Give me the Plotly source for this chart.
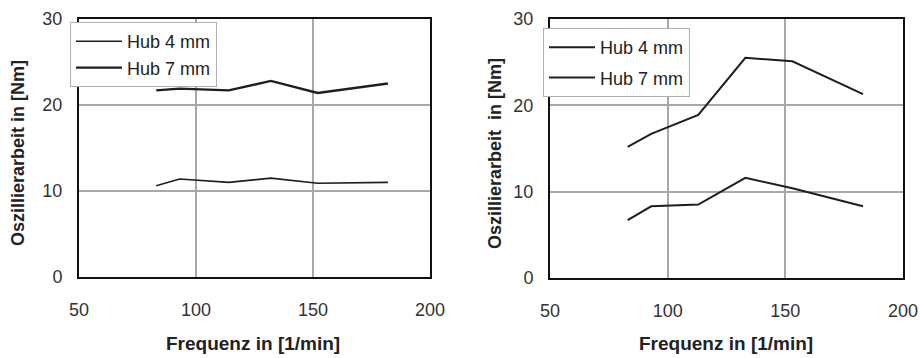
import plotly.graph_objects as go

# Data
freq_left = [83, 93, 114, 132, 152, 182]
left_hub4 = [10.6, 11.4, 11.0, 11.5, 10.9, 11.0]
left_hub7 = [21.7, 21.9, 21.7, 22.8, 21.4, 22.5]

freq_right = [83, 93, 113, 133, 153, 183]
right_hub4 = [6.7, 8.3, 8.5, 11.6, 10.4, 8.3]
right_hub7 = [15.2, 16.7, 18.9, 25.5, 25.1, 21.3]

x_ticks = [50, 100, 150, 200]
y_ticks = [0, 10, 20, 30]
series_names = ["Hub 4 mm", "Hub 7 mm"]

W, H = 920, 358
FONT = "Liberation Sans, Arial, sans-serif"
LINE = "#1e1e1e"

fig = go.Figure()
fig.add_trace(go.Scatter(x=freq_left, y=left_hub4, name=series_names[0], mode="lines",
                         line=dict(color=LINE, width=1.6), xaxis="x", yaxis="y", legend="legend"))
fig.add_trace(go.Scatter(x=freq_left, y=left_hub7, name=series_names[1], mode="lines",
                         line=dict(color=LINE, width=2.3), xaxis="x", yaxis="y", legend="legend"))
fig.add_trace(go.Scatter(x=freq_right, y=right_hub7, name=series_names[0], mode="lines",
                         legendgroup="r1", line=dict(color=LINE, width=2),
                         xaxis="x2", yaxis="y2", legend="legend2"))
fig.add_trace(go.Scatter(x=freq_right, y=right_hub4, name=series_names[1], mode="lines",
                         legendgroup="r2", line=dict(color=LINE, width=2),
                         xaxis="x2", yaxis="y2", legend="legend2"))

def xax(dom):
    return dict(domain=dom, range=[50, 200], tickvals=x_ticks, showgrid=True,
                gridcolor="#a8a8a8", gridwidth=1.5, showline=True, linecolor="#111",
                linewidth=2, mirror=True, zeroline=False, ticks="outside", ticklen=15,
                automargin=False,
                tickcolor="rgba(0,0,0,0)", tickfont=dict(family=FONT, size=18, color="#333"))

def yax(dom, anchor):
    return dict(domain=dom, range=[0, 30], tickvals=y_ticks, showgrid=True,
                gridcolor="#a8a8a8", gridwidth=1.5, showline=True, linecolor="#111",
                linewidth=2, mirror=True, zeroline=False, anchor=anchor, ticks="outside",
                ticklen=11, tickcolor="rgba(0,0,0,0)", automargin=False,
                tickfont=dict(family=FONT, size=18, color="#333"))

legend_common = dict(bgcolor="white", bordercolor="#b0b0b0", borderwidth=1,
                     font=dict(family=FONT, size=18, color="#222"),
                     xanchor="left", yanchor="top", itemwidth=46)

title_font = dict(family=FONT, size=18, color="#222")

fig.update_layout(
    width=W, height=H, margin=dict(l=0, r=0, t=0, b=0, pad=0, autoexpand=False),
    paper_bgcolor="white", plot_bgcolor="white", showlegend=True,
    xaxis=xax([79 / W, 430 / W]) | dict(anchor="y"),
    yaxis=yax([1 - 277 / H, 1 - 19 / H], "x"),
    xaxis2=xax([550 / W, 903 / W]) | dict(anchor="y2"),
    yaxis2=yax([1 - 278 / H, 1 - 19 / H], "x2"),
    legend=dict(x=70 / W, y=1 - 22 / H, tracegroupgap=0, **legend_common),
    legend2=dict(x=543 / W, y=1 - 28 / H, tracegroupgap=4, **legend_common),
    annotations=[
        dict(text="<b>Frequenz in [1/min]</b>", x=253 / W, y=1 - 343 / H, xref="paper", yref="paper",
             xanchor="center", yanchor="middle", showarrow=False, font=dict(title_font, size=19)),
        dict(text="<b>Frequenz in [1/min]</b>", x=726 / W, y=1 - 343 / H, xref="paper", yref="paper",
             xanchor="center", yanchor="middle", showarrow=False, font=dict(title_font, size=19)),
        dict(text="<b>Oszillierarbeit in [Nm]</b>", x=18 / W, y=1 - 153 / H, xref="paper", yref="paper",
             xanchor="center", yanchor="middle", showarrow=False, textangle=-90, font=title_font),
        dict(text="<b>Oszillierarbeit  in [Nm]</b>", x=495 / W, y=1 - 153 / H, xref="paper", yref="paper",
             xanchor="center", yanchor="middle", showarrow=False, textangle=-90, font=title_font),
    ],
)

fig.write_html("out.html")
